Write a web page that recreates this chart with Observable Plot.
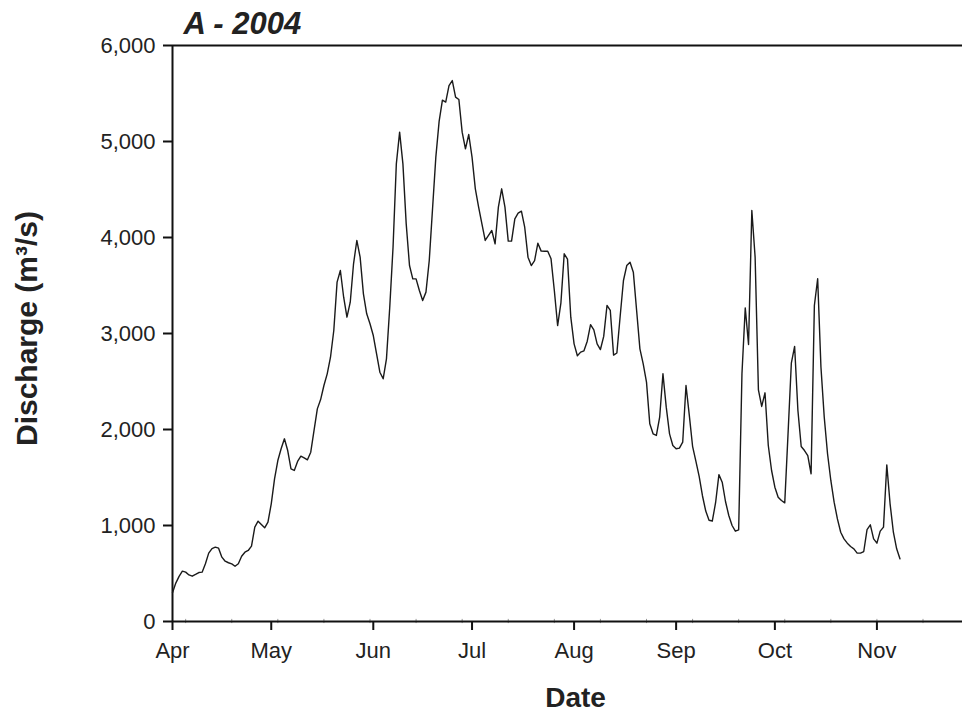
<!DOCTYPE html>
<html>
<head>
<meta charset="utf-8">
<script src="https://cdn.jsdelivr.net/npm/d3@7"></script>
<script src="https://cdn.jsdelivr.net/npm/@observablehq/plot@0.6"></script>
<style>
  html, body { margin: 0; padding: 0; background: #fff; }
</style>
</head>
<body>
<div id="chart"></div>
<script>
// ---- data (daily discharge, m3/s, from 1 April 2004) ----
const startDate = "2004-04-01";
const endDate = "2004-11-27";
const discharge = [
  300, 400, 470, 524, 514, 485, 472, 490, 510, 514,
  601, 712, 760, 774, 764, 670, 628, 612, 600, 576,
  601, 680, 722, 740, 785, 983, 1045, 1010, 976, 1035,
  1226, 1486, 1677, 1799, 1903, 1781, 1590, 1573, 1667, 1722,
  1705, 1684, 1764, 1990, 2215, 2312, 2458, 2580, 2753, 3031,
  3535, 3656, 3378, 3170, 3326, 3726, 3969, 3795, 3413, 3205,
  3101, 2979, 2788, 2597, 2528, 2736, 3274, 3899, 4767, 5097,
  4767, 4142, 3708, 3569, 3569, 3448, 3344, 3431, 3760, 4300,
  4837, 5210, 5430, 5410, 5583, 5635, 5462, 5437, 5097, 4924,
  5073, 4837, 4507, 4316, 4142, 3969, 4021, 4073, 3934, 4316,
  4507, 4316, 3962, 3962, 4194, 4253, 4274, 4107, 3795, 3708,
  3760, 3941, 3858, 3857, 3857, 3778, 3448, 3083, 3320, 3830,
  3775, 3170, 2892, 2768, 2806, 2820, 2920, 3092, 3038, 2892,
  2833, 2970, 3292, 3240, 2775, 2797, 3180, 3552, 3708, 3743,
  3639, 3240, 2840, 2684, 2493, 2059, 1955, 1938, 2128, 2580,
  2233, 1955, 1833, 1799, 1806, 1868, 2458, 2150, 1825, 1670,
  1512, 1310, 1150, 1055, 1047, 1240, 1530, 1451, 1250, 1104,
  1000, 941, 955, 2580, 3267, 2885, 4281, 3795, 2413, 2240,
  2382, 1833, 1573, 1399, 1295, 1260, 1236, 1955, 2691, 2865,
  2198, 1823, 1781, 1729, 1538, 3292, 3570, 2649, 2128, 1747,
  1469, 1243, 1069, 930, 861, 816, 781, 757, 712, 712,
  729, 958, 1007, 861, 816, 941, 983, 1632, 1226, 930,
  757, 653
];
const monthTicks = ["2004-04-01", "2004-05-01", "2004-06-01", "2004-07-01",
                    "2004-08-01", "2004-09-01", "2004-10-01", "2004-11-01"];
const monthLabels = ["Apr", "May", "Jun", "Jul", "Aug", "Sep", "Oct", "Nov"];
const minorTicks = ["2004-04-05", "2004-04-19", "2004-05-03", "2004-05-17", "2004-05-31",
                    "2004-06-14", "2004-06-28", "2004-07-12", "2004-07-26", "2004-08-09",
                    "2004-08-23", "2004-09-06", "2004-09-20", "2004-10-04", "2004-10-18",
                    "2004-11-01", "2004-11-15"];
const yTicks = [0, 1000, 2000, 3000, 4000, 5000, 6000];
const titleText = "A - 2004";
const xLabel = "Date";
const yLabel = "Discharge (m³/s)";

// ---- build table ----
const start = new Date(startDate);
const rows = discharge.map((q, i) => ({date: d3.utcDay.offset(start, i), q}));
const monthDates = monthTicks.map(d => new Date(d));
const minorDates = minorTicks.map(d => new Date(d));
const font = "'Liberation Sans', Arial, Helvetica, sans-serif";

const chart = Plot.plot({
  width: 962,
  height: 715,
  marginLeft: 172,
  marginRight: 0,
  marginTop: 45,
  marginBottom: 94,
  style: {fontFamily: font, fontSize: "22px", color: "#222", background: "#fff"},
  x: {type: "utc", domain: [start, new Date(endDate)]},
  y: {domain: [0, 6000]},
  marks: [
    Plot.ruleX(minorDates, {y1: -22, y2: 22, stroke: "#999", strokeWidth: 1}),
    Plot.axisX(monthDates, {
      tickSize: 9, tickPadding: 12, strokeWidth: 2, stroke: "#111",
      tickFormat: (d, i) => monthLabels[i], fontSize: 22, fill: "#222", label: null
    }),
    Plot.axisY(yTicks, {
      tickSize: 9, tickPadding: 8, strokeWidth: 2, stroke: "#111",
      tickFormat: d3.format(","), fontSize: 22, fill: "#222", label: null
    }),
    Plot.ruleY([0], {stroke: "#111", strokeWidth: 2}),
    Plot.ruleY([6000], {stroke: "#111", strokeWidth: 2}),
    Plot.ruleX([start], {stroke: "#111", strokeWidth: 2}),
    Plot.lineY(rows, {x: "date", y: "q", stroke: "#1a1a1a", strokeWidth: 1.4}),
    Plot.text([titleText], {
      frameAnchor: "top-left", dx: 11, dy: -12, lineAnchor: "bottom", textAnchor: "start",
      fontSize: 31, fontWeight: "bold", fontStyle: "italic", fill: "#222", fontFamily: font
    }),
    Plot.text([xLabel], {
      frameAnchor: "bottom", dx: 8, dy: 77, lineAnchor: "middle", textAnchor: "middle",
      fontSize: 28, fontWeight: "bold", fill: "#222", fontFamily: font
    }),
    Plot.text([yLabel], {
      frameAnchor: "left", dx: -145, dy: -5, rotate: -90, lineAnchor: "middle", textAnchor: "middle",
      fontSize: 30, fontWeight: "bold", fill: "#222", fontFamily: font
    })
  ]
});
document.getElementById("chart").appendChild(chart);
</script>
</body>
</html>
